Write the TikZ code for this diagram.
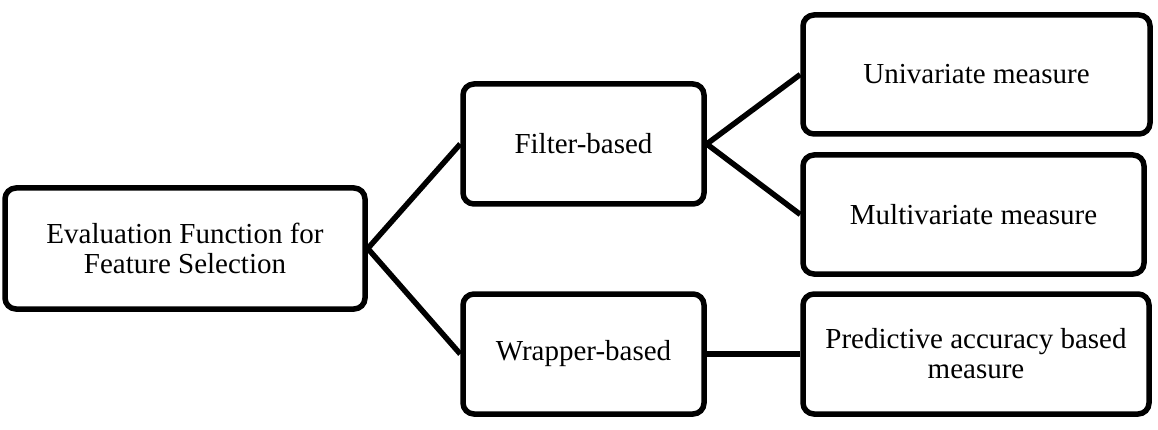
\documentclass[tikz,border=0pt]{standalone}
\usepackage{fontspec}
\setmainfont{Liberation Serif}
\begin{document}
\begin{tikzpicture}[x=1pt,y=-1pt,
  box/.style={draw=black, line width=5.5pt, rounded corners=11pt, fill=white,
    align=center, inner sep=0pt, font=\fontsize{29}{30}\selectfont},
  link/.style={draw=black, line width=5.5pt}]
  \useasboundingbox[fill=white] (0,0) rectangle (1158,430);

  % tree of evaluation functions
  \node[box, minimum width=360pt, minimum height=121pt] (eval) at (185,248.5)
    {Evaluation Function for\\Feature Selection};
  \node[box, minimum width=241pt, minimum height=120pt] (filter) at (583.5,144)
    {Filter-based};
  \node[box, minimum width=241pt, minimum height=120pt] (wrapper) at (583.5,354)
    {Wrapper-based};
  \node[box, minimum width=347pt, minimum height=119pt] (uni) at (976.5,74.5)
    {Univariate measure};
  \node[box, minimum width=341pt, minimum height=119pt] (multi) at (973.5,214.5)
    {Multivariate measure};
  \node[box, minimum width=346pt, minimum height=120pt] (pred) at (976,354)
    {Predictive accuracy based\\measure};

  % connectors
  \draw[link] (eval.east) -- (filter.west);
  \draw[link] (eval.east) -- (wrapper.west);
  \draw[link] (filter.east) -- (uni.west);
  \draw[link] (filter.east) -- (multi.west);
  \draw[link] (wrapper.east) -- (pred.west);
\end{tikzpicture}
\end{document}
